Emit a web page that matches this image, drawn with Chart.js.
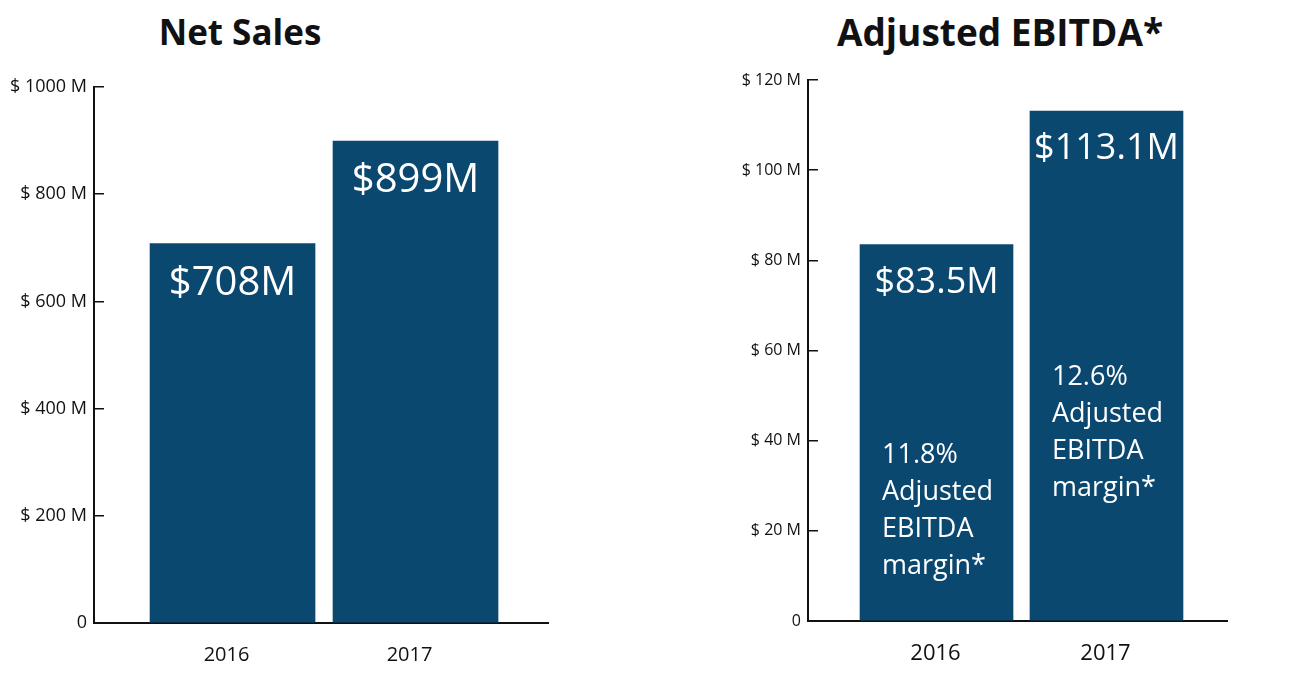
<!DOCTYPE html>
<html>
<head>
<meta charset="utf-8">
<script src="https://cdn.jsdelivr.net/npm/chart.js@4.4.1/dist/chart.umd.min.js"></script>
<style>
  html, body { margin: 0; padding: 0; background: #ffffff; }
  body { width: 1316px; height: 692px; position: relative; overflow: hidden; font-family: "Open Sans", sans-serif; }
  canvas { position: absolute; top: 0; }
  .title { position: absolute; top: 8px; font-family: "Open Sans", sans-serif; font-weight: 700; font-size: 35px; color: #111; transform: translateX(-50%); white-space: nowrap; line-height: 48px; }
</style>
</head>
<body>
<div class="title" style="left:240px">Net Sales</div>
<div class="title" style="left:1000px; font-size:37px">Adjusted EBITDA*</div>
<canvas id="left" width="658" height="692" style="left:0px"></canvas>
<canvas id="right" width="658" height="692" style="left:658px"></canvas>
<script>
// ---- data ----
const categories = ['2016', '2017'];
const netSales = [708, 899];
const netSalesLabels = ['$708M', '$899M'];
const netSalesTicks = [0, 200, 400, 600, 800, 1000];
const ebitda = [83.5, 113.1];
const ebitdaLabels = ['$83.5M', '$113.1M'];
const ebitdaTicks = [0, 20, 40, 60, 80, 100, 120];
const marginTexts = [
  ['11.8%', 'Adjusted', 'EBITDA', 'margin*'],
  ['12.6%', 'Adjusted', 'EBITDA', 'margin*']
];

const BAR_COLOR = '#0b4870';
const AXIS_COLOR = '#111111';

const barTextPlugin = {
  id: 'barText',
  afterDatasetsDraw(chart, args, opts) {
    const ctx = chart.ctx;
    const meta = chart.getDatasetMeta(0);
    ctx.save();
    ctx.fillStyle = '#ffffff';
    meta.data.forEach((bar, i) => {
      const props = bar.getProps(['x', 'y', 'width'], true);
      ctx.font = opts.valueFont;
      ctx.textAlign = 'center';
      ctx.textBaseline = 'alphabetic';
      ctx.fillText(opts.labels[i], props.x, props.y + opts.valueOffset);
      if (opts.lines) {
        ctx.font = opts.lineFont;
        ctx.textAlign = 'left';
        const x0 = props.x - props.width / 2 + opts.lineInset;
        opts.lines[i].forEach((t, k) => {
          ctx.fillText(t, x0, props.y + opts.lineTop[i] + k * opts.lineHeight);
        });
      }
    });
    ctx.restore();
  }
};

function makeChart(canvasId, values, tickValues, cfg) {
  return new Chart(document.getElementById(canvasId), {
    type: 'bar',
    data: {
      datasets: [{
        data: values.map((v, i) => ({ x: i, y: v })),
        backgroundColor: BAR_COLOR,
        borderWidth: 0,
        barThickness: cfg.barThickness
      }]
    },
    options: {
      responsive: false,
      animation: false,
      layout: { padding: cfg.padding },
      plugins: {
        legend: { display: false },
        tooltip: { enabled: false },
        title: { display: false },
        barText: cfg.text
      },
      scales: {
        x: {
          type: 'linear',
          offset: false,
          bounds: 'data',
          min: cfg.xMin,
          max: cfg.xMax,
          afterBuildTicks: s => { s.ticks = categories.map((c, i) => ({ value: i })); },
          afterFit: s => { s.height = cfg.xHeight; },
          grid: { display: false, drawTicks: false, offset: false },
          border: { display: true, color: AXIS_COLOR, width: 2 },
          ticks: {
            callback: v => categories[v],
            color: '#111',
            font: { family: 'Open Sans', size: cfg.xFont },
            padding: cfg.xPad,
            labelOffset: cfg.xLabelOffset,
            maxRotation: 0,
            autoSkip: false
          }
        },
        y: {
          min: 0,
          max: tickValues[tickValues.length - 1],
          afterBuildTicks: s => { s.ticks = tickValues.map(v => ({ value: v })); },
          afterFit: s => { s.width = cfg.yWidth; },
          grid: {
            display: true,
            drawOnChartArea: false,
            drawTicks: true,
            tickLength: -10,
            color: AXIS_COLOR,
            lineWidth: 1.5
          },
          border: { display: true, color: AXIS_COLOR, width: 2 },
          ticks: {
            callback: v => (v === 0 ? '0' : '$ ' + v + ' M'),
            color: '#111',
            font: { family: 'Open Sans', size: cfg.yFont },
            padding: 17
          }
        }
      }
    },
    plugins: [barTextPlugin]
  });
}

makeChart('left', netSales, netSalesTicks, {
  barThickness: 165,
  padding: { left: 0, right: 110, top: 87, bottom: 0 },
  xMin: -0.757, xMax: 1.724,
  xHeight: 69, xFont: 20, xPad: 20, xLabelOffset: -6,
  yWidth: 94, yFont: 18,
  text: {
    labels: netSalesLabels,
    valueFont: '40px "Open Sans"',
    valueOffset: 51
  }
});

makeChart('right', ebitda, ebitdaTicks, {
  barThickness: 153,
  padding: { left: 40, right: 89, top: 80, bottom: 0 },
  xMin: -0.756, xMax: 1.709,
  xHeight: 71, xFont: 22, xPad: 20, xLabelOffset: -1,
  yWidth: 110, yFont: 16,
  text: {
    labels: ebitdaLabels,
    valueFont: '36px "Open Sans"',
    valueOffset: 48,
    lines: marginTexts,
    lineFont: '27px "Open Sans"',
    lineInset: 22,
    lineTop: [218, 274],
    lineHeight: 37
  }
});
</script>
</body>
</html>
